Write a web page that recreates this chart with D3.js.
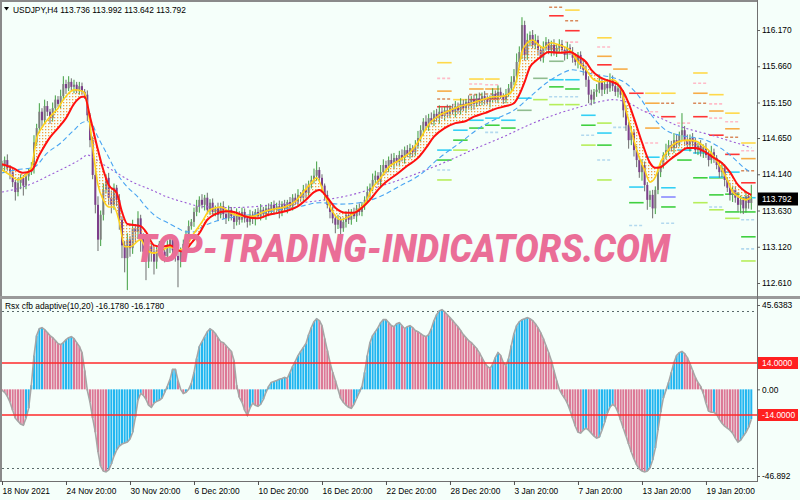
<!DOCTYPE html>
<html><head><meta charset="utf-8">
<script src="https://cdn.jsdelivr.net/npm/d3@7"></script>
<style>
html,body{margin:0;padding:0;background:#f5fffa;}
svg{display:block;}
</style></head><body>
<svg id="c" width="800" height="500"></svg>
<script>
// ---------- DATA ----------
const symbolTitle = "USDJPY,H4  113.736 113.992 113.642 113.792";
const indicatorTitle = "Rsx cfb adaptive(10,20) -16.1780 -16.1780";
const firstOpen = 114.25;
const closes = [
114.27,114.34,114.23,114.17,114.03,113.89,114.02,114.09,113.98,114.11,
114.17,114.23,114.59,114.79,115.02,114.90,115.10,115.02,114.93,115.07,
115.19,115.13,115.24,115.41,115.35,115.44,115.37,115.40,115.33,115.38,
115.30,115.26,114.97,114.62,114.13,113.71,113.22,113.57,113.92,114.09,
113.81,113.71,113.95,113.78,113.50,113.14,112.96,113.22,113.10,113.38,
113.33,113.52,113.27,113.05,112.91,113.13,113.05,112.91,113.07,113.16,
113.05,112.99,113.13,113.22,113.07,112.99,112.93,113.07,113.16,113.30,
113.41,113.47,113.61,113.69,113.78,113.71,113.81,113.64,113.74,113.61,
113.66,113.57,113.69,113.58,113.52,113.64,113.55,113.47,113.58,113.50,
113.61,113.52,113.47,113.57,113.51,113.61,113.55,113.64,113.58,113.66,
113.61,113.71,113.64,113.69,113.61,113.72,113.66,113.75,113.69,113.81,
113.75,113.85,113.81,113.92,113.88,114.00,114.06,114.12,114.20,114.09,
113.98,113.85,113.71,113.61,113.52,113.43,113.50,113.38,113.47,113.57,
113.50,113.61,113.55,113.66,113.61,113.71,113.78,113.89,113.95,114.06,
114.12,114.03,114.17,114.27,114.23,114.34,114.28,114.37,114.31,114.41,
114.37,114.48,114.42,114.51,114.45,114.54,114.65,114.76,114.88,114.82,
114.93,114.88,114.99,114.93,115.02,114.96,115.04,114.99,115.07,115.02,
115.10,115.04,115.13,115.07,115.16,115.10,115.19,115.13,115.21,115.16,
115.24,115.19,115.16,115.21,115.27,115.21,115.30,115.24,115.19,115.27,
115.35,115.44,115.52,115.72,115.86,116.24,115.82,116.03,116.10,115.96,
116.03,115.89,115.78,115.92,116.00,115.89,115.96,115.86,115.92,115.97,
115.89,115.82,115.92,115.86,115.78,115.72,115.82,115.68,115.61,115.47,
115.26,115.19,115.30,115.33,115.44,115.33,115.41,115.35,115.47,115.38,
115.30,115.35,115.26,115.04,114.83,114.62,114.73,114.48,114.34,114.17,
114.27,113.99,113.78,113.85,113.66,113.92,114.17,114.27,114.41,114.48,
114.55,114.51,114.62,114.57,114.69,114.76,114.62,114.55,114.65,114.59,
114.48,114.54,114.45,114.51,114.41,114.34,114.45,114.37,114.27,114.17,
114.23,114.06,113.95,113.85,113.92,113.81,113.71,113.78,113.66,113.83,
113.736,113.792];
// upper / lower shadow length of each candle, in pips (0.01 JPY)
const wickUpPips = [
6,5,8,4,6,3,7,5,4,6, 5,8,10,6,12,5,9,7,4,8, 6,5,9,11,6,8,5,7,4,6, 5,4,6,3,5,8,12,6,9,5,
7,10,6,4,8,5,6,9,5,12, 6,10,5,4,8,6,3,7,6,4, 5,3,8,6,4,5,7,4,6,5, 8,4,6,9,5,8,4,7,5,6,
4,8,5,7,3,6,4,5,8,4, 6,5,3,7,5,4,6,8,4,5, 7,4,6,5,8,4,6,3,7,5, 6,8,4,7,9,5,6,10,12,4,
5,3,6,4,8,5,7,4,6,5, 8,4,6,5,7,4,5,8,6,9, 7,5,10,8,6,5,9,7,4,6, 8,5,7,6,4,8,10,7,5,9,
6,8,5,7,9,6,5,8,4,6, 7,5,8,6,4,9,5,7,6,8, 5,7,6,4,8,5,9,6,4,7, 6,8,10,12,8,11,6,9,5,7,
8,6,5,9,7,4,6,8,5,7, 6,4,8,5,7,6,4,5,8,6, 5,7,4,8,10,6,5,7,9,6, 5,8,4,6,7,5,9,4,6,5,
8,5,4,6,7,5,8,6,4,9, 7,6,10,8,5,24,6,8,5,7, 6,4,8,5,7,6,9,5,4,6, 8,5,4,7,6,5,8,6,4,7,
5,20];
const wickDnPips = [
5,8,4,10,7,12,6,9,14,5, 6,4,8,5,7,9,4,6,8,5, 7,4,6,5,8,4,6,9,5,7, 4,6,8,10,6,12,16,9,8,5,
10,12,7,9,14,18,20,45,12,8, 15,10,22,12,26,9,14,18,10,8, 12,9,6,10,14,8,38,10,7,6, 8,5,7,6,9,5,8,6,7,4,
6,9,5,7,8,4,6,10,5,7, 4,6,8,5,7,9,4,6,5,8, 6,4,7,5,9,6,4,7,5,6, 4,7,5,6,8,4,6,5,7,4,
6,8,5,9,7,12,6,10,5,8, 6,7,4,8,5,6,7,4,8,5, 6,4,7,5,8,6,4,7,5,6, 5,8,4,6,7,5,4,6,8,5,
7,4,6,5,8,4,7,5,6,4, 8,5,6,4,7,5,6,8,4,6, 5,7,4,8,6,5,7,4,6,5, 4,6,5,8,6,10,8,7,9,5,
6,8,5,7,4,6,9,5,7,6, 5,8,6,4,7,5,9,6,8,10, 12,8,6,7,5,9,6,8,5,7, 6,8,5,10,8,12,7,9,10,8,
12,9,14,10,14,8,6,7,5,6, 8,5,7,6,4,7,8,5,9,6, 5,7,6,8,4,9,5,7,6,8, 7,9,6,8,10,7,9,12,8,6,
8,9.4];
// moving averages: [bar index, value]
const maRed = [[0,114.28],[4,114.23],[8,114.16],[11,114.19],[14,114.41],[18,114.66],[21,114.79],[24,114.93],[27,115.13],[30,115.23],[31,115.23],[33,114.95],[36,114.48],[38,114.20],[40,113.99],[43,113.88],[45,113.61],[47,113.44],[52,113.41],[54,113.33],[57,113.14],[60,113.12],[63,113.14],[66,113.07],[68,113.05],[71,113.17],[74,113.31],[77,113.50],[80,113.58],[84,113.62],[87,113.61],[91,113.55],[96,113.52],[100,113.57],[104,113.60],[108,113.64],[111,113.69],[114,113.78],[117,113.89],[119,113.92],[122,113.81],[125,113.67],[129,113.60],[132,113.60],[135,113.67],[138,113.78],[141,113.92],[144,114.03],[148,114.14],[152,114.26],[156,114.37],[159,114.51],[162,114.67],[166,114.79],[170,114.86],[174,114.89],[177,114.95],[181,115.00],[185,115.06],[189,115.10],[192,115.14],[194,115.26],[196,115.44],[198,115.65],[200,115.73],[202,115.79],[205,115.86],[209,115.85],[213,115.86],[216,115.80],[219,115.72],[221,115.61],[224,115.51],[228,115.45],[231,115.40],[233,115.30],[235,115.14],[237,114.93],[240,114.59],[243,114.30],[245,114.23],[247,114.24],[250,114.33],[254,114.44],[257,114.51],[260,114.51],[263,114.47],[267,114.37],[270,114.30],[273,114.17],[276,113.99],[279,113.89],[281,113.85]];
const maYellow = [[0,114.20],[3,114.13],[6,114.06],[8,114.10],[11,114.23],[13,114.65],[15,114.80],[18,114.95],[21,115.07],[23,115.19],[25,115.28],[27,115.33],[30,115.31],[31,115.28],[32,115.12],[34,114.52],[36,113.99],[38,113.78],[40,113.68],[42,113.68],[44,113.47],[46,113.12],[48,113.12],[52,113.22],[54,113.09],[57,113.03],[60,113.07],[63,113.12],[66,113.07],[69,113.13],[72,113.31],[75,113.47],[78,113.64],[82,113.68],[86,113.59],[90,113.55],[94,113.55],[98,113.61],[102,113.65],[106,113.68],[110,113.76],[113,113.89],[116,114.02],[118,114.09],[121,113.85],[124,113.61],[127,113.50],[130,113.54],[133,113.62],[136,113.73],[139,113.95],[142,114.09],[145,114.24],[149,114.34],[153,114.45],[157,114.65],[160,114.84],[164,114.97],[168,115.04],[172,115.10],[176,115.14],[180,115.19],[184,115.23],[188,115.24],[191,115.30],[193,115.47],[195,115.86],[197,115.99],[199,116.03],[201,115.97],[203,115.92],[206,115.99],[209,115.96],[213,115.89],[216,115.72],[219,115.61],[222,115.47],[225,115.44],[229,115.47],[232,115.35],[234,115.04],[236,114.76],[238,114.48],[241,114.20],[243,114.03],[245,114.10],[247,114.31],[250,114.49],[253,114.59],[257,114.62],[260,114.61],[263,114.54],[266,114.44],[269,114.27],[272,114.06],[274,113.89],[277,113.81],[279,113.78],[281,113.82]];
const maBlue = [[0,114.16],[5,114.20],[12,114.24],[17,114.44],[22,114.58],[27,114.76],[31,114.88],[33,114.88],[36,114.66],[40,114.38],[43,114.16],[47,113.96],[51,113.82],[54,113.68],[58,113.54],[62,113.46],[66,113.38],[69,113.33],[72,113.33],[75,113.40],[82,113.50],[89,113.55],[97,113.59],[104,113.64],[112,113.69],[119,113.74],[127,113.72],[134,113.74],[142,113.83],[149,113.97],[157,114.14],[164,114.37],[172,114.59],[179,114.79],[187,114.95],[192,115.04],[198,115.23],[204,115.42],[209,115.54],[214,115.61],[218,115.58],[223,115.54],[228,115.51],[234,115.42],[239,115.23],[244,114.95],[249,114.76],[254,114.69],[259,114.66],[264,114.62],[269,114.52],[274,114.38],[278,114.24],[281,114.16]];
const maPurple = [[0,113.89],[7,113.95],[12,114.02],[18,114.13],[24,114.24],[29,114.34],[32,114.41],[37,114.30],[43,114.16],[49,114.03],[56,113.92],[62,113.82],[68,113.75],[74,113.69],[84,113.67],[93,113.68],[102,113.71],[112,113.74],[121,113.78],[131,113.85],[140,113.95],[149,114.06],[159,114.20],[168,114.34],[178,114.51],[187,114.65],[198,114.84],[209,115.00],[217,115.09],[224,115.16],[229,115.19],[234,115.16],[240,115.04],[247,114.93],[253,114.83],[259,114.76],[266,114.69],[272,114.62],[278,114.55],[281,114.51]];
// daily level dashes: [day column, price]; column c covers bars levelStart+6c .. +6
const levelStart = 163, barsPerDay = 6;
const lvYellow = [[0,115.71],[1,115.19],[2,115.48],[3,115.48],[8,116.45],[10,116.06],[13,115.28],[14,115.28],[16,115.565],[17,115.26],[18,115.00],[19,114.58]];
const lvPink = [[0,115.49],[0,114.97],[1,115.12],[2,115.41],[3,115.40],[8,116.00],[10,115.93],[13,115.02],[13,114.58],[15,114.86],[16,115.42],[17,115.13],[17,114.93],[18,114.88],[19,114.47]];
const lvOrange = [[0,115.31],[2,115.34],[3,115.34],[10,115.80],[11,115.62],[13,115.14],[13,114.79],[16,115.28],[17,115.03],[18,114.78],[19,114.36]];
const lvBrown = [[0,115.20],[2,115.26],[3,115.27],[7,116.49],[8,116.30],[14,115.14],[16,115.14],[18,114.66],[19,114.19]];
const lvRed = [[0,115.09],[2,115.19],[3,115.20],[7,116.37],[8,116.16],[10,115.68],[12,115.28],[14,114.95],[16,114.95],[17,114.69],[18,114.42],[19,114.02]];
const lvCyan = [[0,114.48],[1,114.76],[2,114.90],[3,114.93],[4,114.90],[5,115.21],[7,115.47],[8,115.47],[9,114.97],[10,114.72],[12,113.96],[13,114.38],[14,113.95],[15,114.48],[16,114.44],[17,114.10],[18,114.17],[19,113.81]];
const lvGreen = [[0,114.34],[1,114.62],[2,114.79],[3,114.83],[4,114.79],[7,115.37],[8,115.34],[9,114.83],[10,114.55],[12,113.74],[14,113.68],[15,114.34],[16,114.09],[17,114.09],[17,113.85],[18,113.86],[18,113.61],[19,113.61],[19,113.26]];
const lvGrayGreen = [[5,115.04],[6,115.49],[7,115.73]];
const lvPaleBlue = [[0,114.20],[3,114.73],[7,115.23],[8,115.23],[9,114.69],[10,114.34],[11,114.80],[12,113.42],[14,113.45],[17,113.68],[19,113.50],[19,113.09]];
const lvLightGreen = [[0,114.06],[1,114.48],[6,115.19],[7,115.12],[8,115.12],[9,114.55],[10,114.86],[10,114.06],[16,113.74],[17,113.64],[18,113.52],[19,112.92]];
const lvViolet = [[14,113.82]];
// RSX histogram
const rsx = [
-0.5,-1.6,-3.8,-7.0,-11.3,-15.6,-17.2,-18.8,-19.4,-15.6,
-10.2,2.2,18.3,29.1,32.8,33.4,32.3,30.7,29.1,28.0,
26.4,24.8,24.2,25.3,26.9,28.0,28.5,27.5,25.3,23.2,
19.9,10.2,-0.5,-7.0,-15.6,-23.2,-33.9,-41.5,-44.2,-44.7,
-43.6,-40.4,-36.1,-32.8,-30.7,-29.6,-29.1,-28.5,-26.9,-23.2,
-15.1,-5.9,-2.2,-3.2,-5.4,-8.6,-9.7,-7.5,-6.5,-5.9,
-4.8,-1.6,1.6,5.4,10.8,10.8,4.8,0,-2.2,-1.6,
0,3.2,9.2,16.7,23.2,25.8,28.5,31.2,32.8,31.8,
30.2,28.0,25.8,25.3,23.7,22.1,20.5,15.6,2.2,-4.3,
-7.0,-11.3,-14.0,-10.2,-7.5,-8.6,-9.2,-8.1,-5.4,-1.6,
1.6,3.8,4.3,4.8,5.4,5.9,6.5,5.9,9.2,12.4,
15.1,18.3,20.5,22.6,24.8,29.6,33.4,36.6,38.2,37.2,
34.5,27.5,21.0,14.5,9.2,4.8,0,-4.8,-7.0,-8.6,
-9.7,-10.2,-8.1,-4.8,-1.6,1.6,9.2,18.3,25.3,29.1,
31.2,33.4,36.1,37.7,37.7,36.1,34.5,33.9,35.5,36.1,
34.5,32.8,33.9,34.5,33.4,31.8,31.2,30.2,29.1,28.5,
29.6,32.8,37.2,40.4,42.5,43.1,42.0,40.4,38.8,37.2,
35.5,33.9,31.8,29.6,28.0,26.4,25.3,23.7,22.1,19.9,
17.2,14.5,12.4,11.3,13.5,17.2,19.9,18.3,14.5,12.9,
16.7,23.7,30.2,34.5,36.6,37.7,38.2,38.8,38.2,37.2,
35.5,33.4,30.7,27.5,23.7,19.9,15.6,10.2,4.8,0,
-2.7,-4.8,-7.5,-11.3,-15.6,-19.9,-23.2,-23.7,-22.1,-21.0,
-22.1,-23.7,-25.3,-26.4,-25.8,-22.1,-17.8,-12.9,-9.7,-8.1,
-9.2,-12.4,-16.7,-21.0,-25.3,-29.6,-33.9,-37.7,-40.9,-43.1,
-44.2,-44.7,-44.2,-42.5,-38.2,-31.8,-22.1,-12.4,-4.8,-0.5,
3.8,9.2,14.5,18.3,19.9,20.5,19.4,17.2,14.0,10.2,
6.5,3.8,1.6,-2.2,-7.5,-11.8,-12.4,-12.4,-13.5,-16.2,
-18.3,-19.9,-21.0,-22.1,-23.7,-26.4,-28.5,-27.5,-25.3,-23.2,
-20.5,-16.178];
const rsxLevels = [14, -14];
const rsxDotLevels = [42.5, -42.5];
const priceTicks = [116.170,115.660,115.150,114.650,114.140,113.630,113.120,112.610];
const lastPrice = 113.792;
const rsxAxisTicks = [45.6383, 0, -46.892];
const rsxAxisLabels = ["45.6383","0.00","-46.892"];
const dateTicks = [0,24,48,72,96,120,144,168,192,216,240,264];
const dateLabels = ["18 Nov 2021","24 Nov 20:00","30 Nov 20:00","6 Dec 20:00","10 Dec 20:00","16 Dec 20:00","22 Dec 20:00","28 Dec 20:00","3 Jan 20:00","7 Jan 20:00","13 Jan 20:00","19 Jan 20:00"];
const watermark = "TOP-TRADING-INDICATORS.COM";

// ---------- DRAW ----------
const FONT = "'Liberation Sans', Arial, sans-serif";
const FS = 8.4;
const svg = d3.select('#c');
svg.append('rect').attr('width',800).attr('height',500).attr('fill','#f5fffa');
const defs = svg.append('defs');
defs.append('clipPath').attr('id','cp').append('rect').attr('x',2).attr('y',2).attr('width',755).attr('height',294);
defs.append('clipPath').attr('id','ci').append('rect').attr('x',2).attr('y',299).attr('width',755).attr('height',182);
const pat = defs.append('pattern').attr('id','dots').attr('width',3).attr('height',3).attr('patternUnits','userSpaceOnUse');
pat.append('rect').attr('x',0).attr('y',0).attr('width',1.3).attr('height',1.3).attr('fill','#f5a040');

const n = closes.length;
const x = d3.scaleLinear().domain([0,281]).range([2,751.3]);
const yP = d3.scaleLinear().domain([112.61,116.17]).range([283,30]);
const yI = d3.scaleLinear().domain([-46.892,45.6383]).range([476,305]);
const crisp = v => Math.round(v) + 0.5;

// ---- price panel ----
const gp = svg.append('g').attr('clip-path','url(#cp)');

// level dashes
const levelSets = [
  [lvPaleBlue,'#b3d9ee','3,2'],[lvLightGreen,'#b6ee5a',null],[lvGrayGreen,'#8fbc8f',null],
  [lvGreen,'#3fd03f',null],[lvCyan,'#33d0f5',null],[lvViolet,'#8a8aff',null],
  [lvPink,'#ffbcc8','3,2'],[lvBrown,'#d98a5c','3,2'],[lvOrange,'#f7ad48',null],
  [lvYellow,'#ffd94a',null],[lvRed,'#ff3535',null]
];
levelSets.forEach(([arr,col,dash])=>{
  gp.append('g').selectAll('line').data(arr).join('line')
    .attr('x1',d=>x(levelStart+d[0]*barsPerDay)+0.5)
    .attr('x2',d=>x(levelStart+(d[0]+1)*barsPerDay)-1)
    .attr('y1',d=>yP(d[1])).attr('y2',d=>yP(d[1]))
    .attr('stroke',col).attr('stroke-width',1.6)
    .attr('stroke-dasharray',dash);
});

// candles
const opens = closes.map((c,i)=> i===0 ? firstOpen : closes[i-1]);
const candles = closes.map((c,i)=>({
  i, o:opens[i], c,
  h: Math.max(opens[i],c) + wickUpPips[i]/100,
  l: Math.min(opens[i],c) - wickDnPips[i]/100
}));
const cg = gp.append('g');
cg.selectAll('line').data(candles).join('line')
  .attr('x1',d=>x(d.i)).attr('x2',d=>x(d.i))
  .attr('y1',d=>yP(d.h)).attr('y2',d=>yP(d.l))
  .attr('stroke',d=>d.c>=d.o?'#3f9f3f':'#6e6e6e').attr('stroke-width',1);
cg.selectAll('rect').data(candles).join('rect')
  .attr('x',d=>x(d.i)-1).attr('width',2)
  .attr('y',d=>yP(Math.max(d.o,d.c)))
  .attr('height',d=>Math.max(1,Math.abs(yP(d.o)-yP(d.c))))
  .attr('fill',d=>d.c>=d.o?'#7e7e7e':'#7c3f8a');

// moving averages
const mline = d3.line().x(d=>x(d[0])).y(d=>yP(d[1])).curve(d3.curveMonotoneX);
gp.append('path').attr('d',mline(maPurple)).attr('fill','none').attr('stroke','#9b5bd6').attr('stroke-width',1.1).attr('stroke-dasharray','2,2.5');
gp.append('path').attr('d',mline(maBlue)).attr('fill','none').attr('stroke','#48a4f2').attr('stroke-width',1.1).attr('stroke-dasharray','5,3');
const bandPts = maYellow.map(d=>[x(d[0]),yP(d[1])]).concat(maRed.slice().reverse().map(d=>[x(d[0]),yP(d[1])]));
gp.append('path').attr('d',d3.line().curve(d3.curveLinear)(bandPts)+'Z').attr('fill','url(#dots)').attr('stroke','none');
gp.append('path').attr('d',mline(maYellow)).attr('fill','none').attr('stroke','#ffd21a').attr('stroke-width',1.6);
gp.append('path').attr('d',mline(maRed)).attr('fill','none').attr('stroke','#ff1010').attr('stroke-width',2);

// watermark
gp.append('text').attr('x',135).attr('y',262)
  .attr('textLength',535).attr('lengthAdjust','spacingAndGlyphs')
  .style('font-family',"Roboto, 'DejaVu Sans', sans-serif").style('font-weight','900').style('font-style','italic')
  .style('font-size','38px').attr('fill','#ea6e97').text(watermark);

// ---- indicator panel ----
const gi = svg.append('g').attr('clip-path','url(#ci)');
gi.selectAll('line.dl').data(rsxDotLevels).join('line').attr('class','dl')
  .attr('x1',2).attr('x2',757).attr('y1',d=>crisp(yI(d))).attr('y2',d=>crisp(yI(d)))
  .attr('stroke','#5a6a6a').attr('stroke-width',1).attr('stroke-dasharray','2,3');
gi.append('g').selectAll('rect').data(rsx).join('rect')
  .attr('x',(d,i)=>x(i)-1).attr('width',2)
  .attr('y',d=>Math.min(yI(0),yI(d))).attr('height',d=>Math.abs(yI(d)-yI(0)))
  .attr('fill',(d,i)=> (i>0 && d>=rsx[i-1]) ? '#22b6f0' : '#dc7896');
gi.append('path').attr('d',d3.line().x((d,i)=>x(i)).y(d=>yI(d))(rsx))
  .attr('fill','none').attr('stroke','#a6a6a6').attr('stroke-width',1.6);
gi.selectAll('line.rl').data(rsxLevels).join('line').attr('class','rl')
  .attr('x1',2).attr('x2',757).attr('y1',d=>Math.round(yI(d))).attr('y2',d=>Math.round(yI(d)))
  .attr('stroke','#ff2a2a').attr('stroke-width',1.5);
svg.append('text').attr('x',5).attr('y',309).attr('font-family',FONT).attr('font-size',FS).attr('fill','#000').text(indicatorTitle);

// ---- frames ----
svg.append('rect').attr('x',0).attr('y',0).attr('width',2).attr('height',482).attr('fill','#8a8a8a');
svg.append('rect').attr('x',0).attr('y',0).attr('width',757).attr('height',2).attr('fill','#8a8a8a');
svg.append('rect').attr('x',0).attr('y',296).attr('width',800).attr('height',3).attr('fill','#9a9a9a');
svg.append('line').attr('x1',757.5).attr('x2',757.5).attr('y1',0).attr('y2',482).attr('stroke','#707070');
svg.append('line').attr('x1',0).attr('x2',758).attr('y1',481.5).attr('y2',481.5).attr('stroke','#707070');

// title
svg.append('path').attr('d','M4,7 L9,7 L6.5,10.5 Z').attr('fill','#000');
svg.append('text').attr('x',13).attr('y',13).attr('font-family',FONT).attr('font-size',FS).attr('fill','#000').text(symbolTitle);

// price axis
const gP = svg.append('g').attr('transform','translate(757,0)')
  .call(d3.axisRight(yP).tickValues(priceTicks).tickFormat(d=>d.toFixed(3)).tickSize(3).tickPadding(2));
gP.select('.domain').remove();
gP.attr('font-family',FONT).attr('font-size',FS);
gP.selectAll('line').attr('stroke','#606060');
gP.selectAll('text').attr('fill','#000');
// last price tag
const lp = svg.append('g').attr('transform',`translate(757,${yP(lastPrice)})`);
lp.append('rect').attr('x',1).attr('y',-6.5).attr('width',40).attr('height',13).attr('fill','#000');
lp.append('text').attr('x',5).attr('y',3).attr('font-family',FONT).attr('font-size',FS).attr('fill','#fff').text(lastPrice.toFixed(3));

// indicator axis
const gI = svg.append('g').attr('transform','translate(757,0)')
  .call(d3.axisRight(yI).tickValues(rsxAxisTicks).tickFormat((d,i)=>rsxAxisLabels[i]).tickSize(3).tickPadding(2));
gI.select('.domain').remove();
gI.attr('font-family',FONT).attr('font-size',FS);
gI.selectAll('line').attr('stroke','#606060');
gI.selectAll('text').attr('fill','#000');
rsxLevels.forEach(v=>{
  const g = svg.append('g').attr('transform',`translate(757,${Math.round(yI(v))})`);
  g.append('rect').attr('x',1).attr('y',-6).attr('width',40).attr('height',12).attr('fill','#ff2020');
  g.append('text').attr('x',5).attr('y',3).attr('font-family',FONT).attr('font-size',FS).attr('fill','#fff').text(v.toFixed(4));
});

// date axis
const gD = svg.append('g').attr('transform','translate(0,481)')
  .call(d3.axisBottom(x).tickValues(dateTicks).tickFormat((d,i)=>dateLabels[i]).tickSize(4).tickPadding(3));
gD.select('.domain').remove();
gD.attr('font-family',FONT).attr('font-size',FS);
gD.selectAll('line').attr('stroke','#505050');
gD.selectAll('text').attr('text-anchor','start').attr('fill','#000');
</script>
</body></html>
